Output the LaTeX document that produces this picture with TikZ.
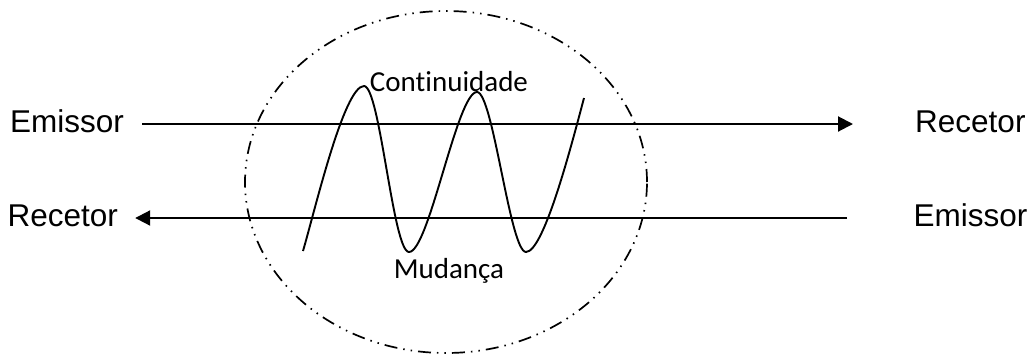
\documentclass[tikz,border=0pt]{standalone}
\usepackage{fontspec}
\setmainfont{Liberation Sans}
\newfontfamily\carl[Ligatures=NoCommon]{Carlito}
\usetikzlibrary{arrows.meta,shapes.geometric}
\begin{document}
\begin{tikzpicture}[x=1pt,y=-1pt,
  lab/.style={font=\fontsize{31.5}{36}\selectfont, inner sep=0pt, text height=22.5pt, text depth=6pt},
  wlab/.style={font=\carl\fontsize{29}{34}\selectfont, inner sep=0pt, anchor=base},
  arr/.style={line width=2pt, -{Triangle[length=15pt,width=15pt]}},
  wave/.style={line width=1.9pt},
  ring/.style={draw, ellipse, line width=1.7pt, inner sep=0pt,
    dash pattern=on 13pt off 6pt on 1.5pt off 6pt on 1.5pt off 6pt}]
\useasboundingbox (0,0) rectangle (1035,354);
% ellipse
\node[ring, minimum width=402pt, minimum height=342pt] (circ) at (446,182) {};
% labels
\node[lab, anchor=west] (emL) at (10,124) {Emissor};
\node[lab, anchor=west] (recR) at (915,124) {Recetor};
\node[lab, anchor=west] (recL) at (7.5,218) {Recetor};
\node[lab, anchor=west] (emR) at (913.5,218) {Emissor};
% arrows
\draw[arr, shorten <=18pt, shorten >=62pt] (emL.east) -- (recR.west);
\draw[arr, shorten <=66.5pt, shorten >=17pt] (emR.west) -- (recL.east);
% wave
\coordinate (w0) at (303,251);
\coordinate (w1) at (364,86);
\coordinate (w2) at (409,252);
\coordinate (w3) at (477,92);
\coordinate (w4) at (526,252);
\coordinate (w5) at (584,98);
\draw[wave] (w0) .. controls (315,210) and (344,86) .. (w1)
  .. controls (380,86) and (393,252) .. (w2)
  .. controls (429,252) and (457,92) .. (w3)
  .. controls (493,92) and (510,252) .. (w4)
  .. controls (544,252) and (572,143) .. (w5);
% wave labels
\node[wlab] (cont) at (449,91) {Cont\kern0pt inuidade};
\node[wlab] (mud) at (449,278) {Mudança};
\end{tikzpicture}
\end{document}
